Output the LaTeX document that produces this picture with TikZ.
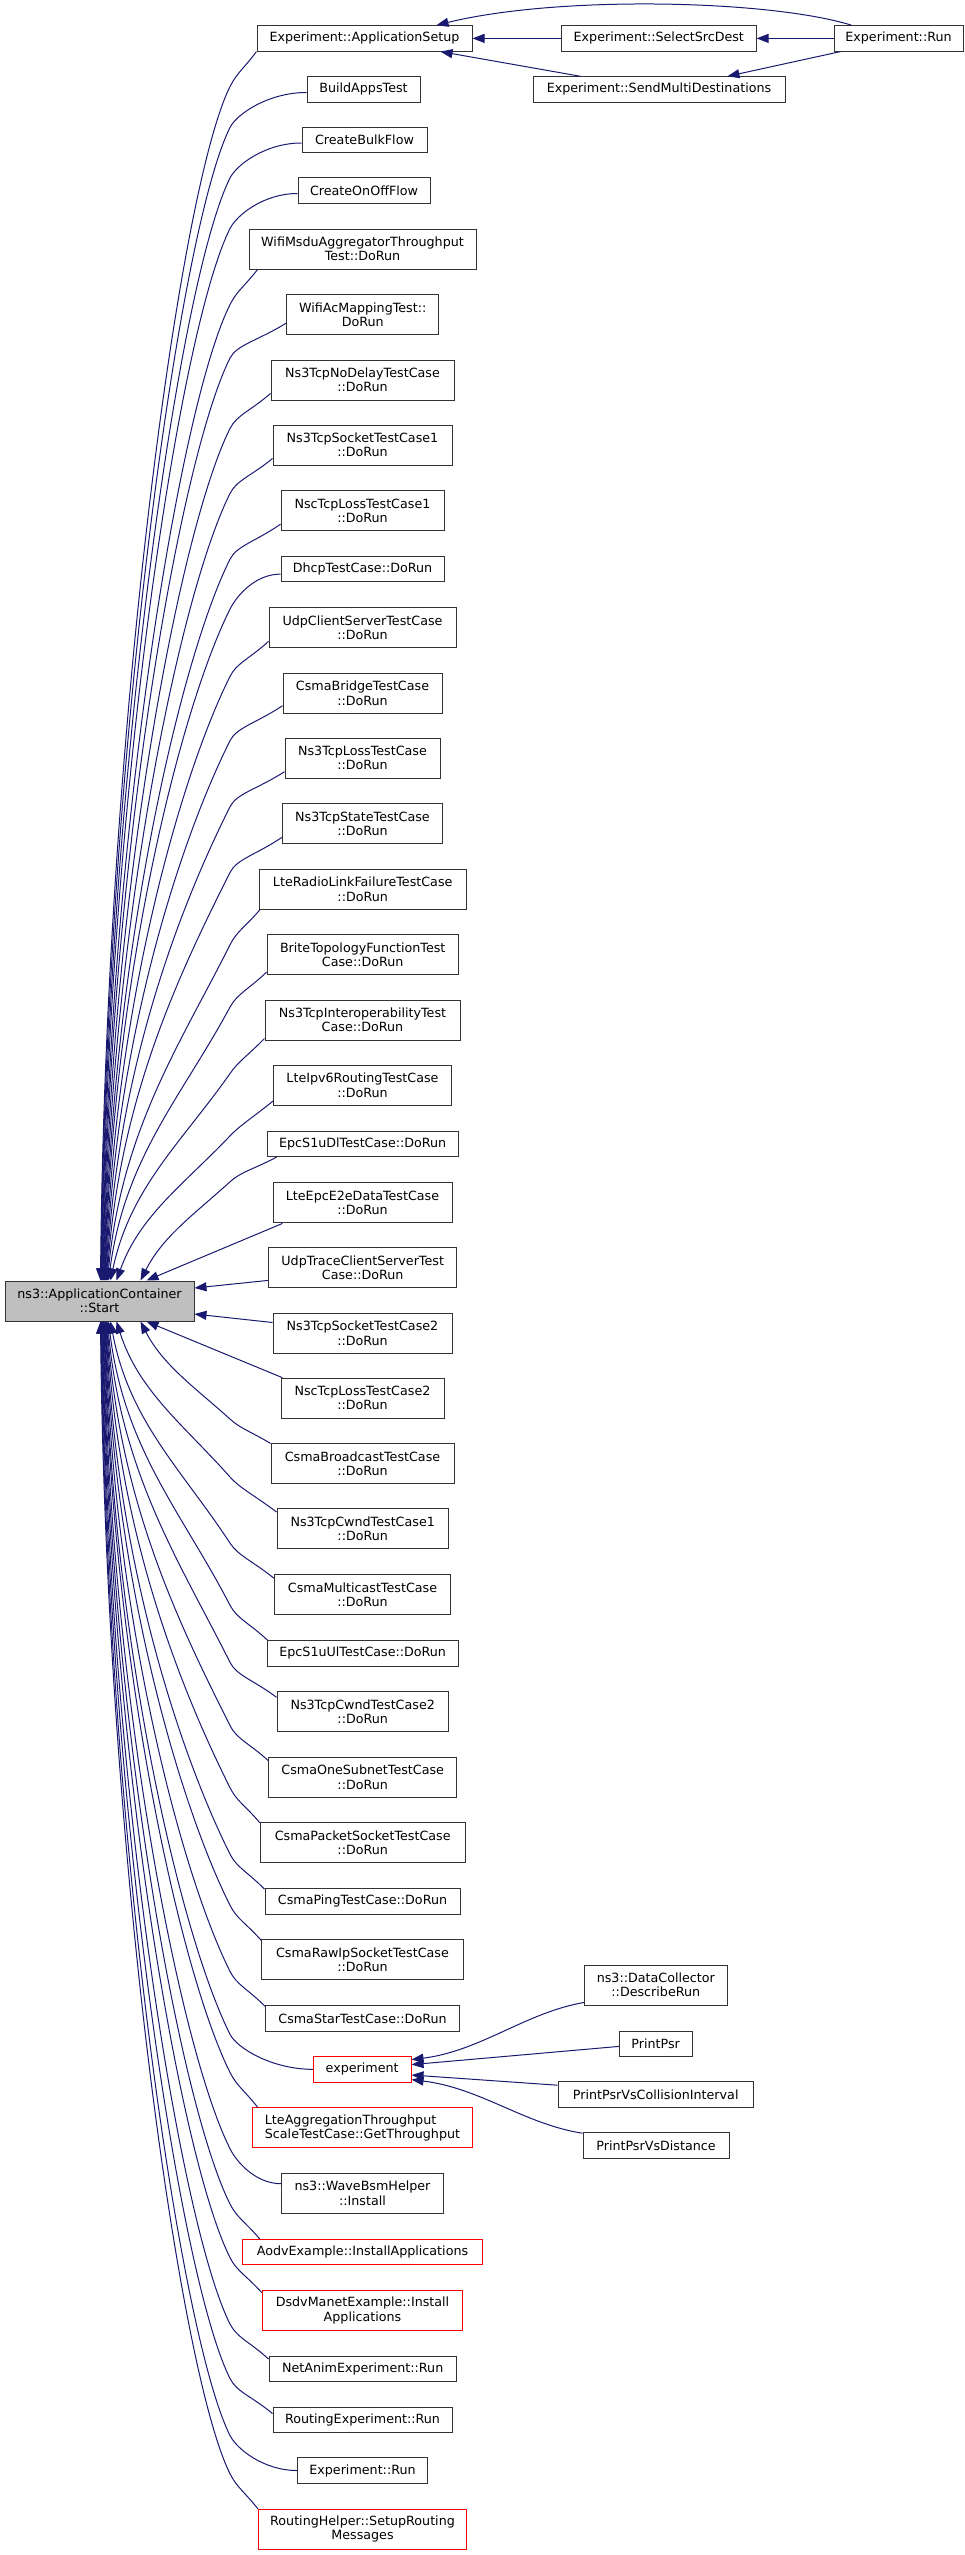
\documentclass[tikz,border=0pt]{standalone}
\usepackage{fontspec}
\setmainfont{DejaVu Sans}
\usetikzlibrary{arrows.meta,calc}
\definecolor{edgec}{HTML}{191970}
\definecolor{startfill}{HTML}{BFBFBF}
\tikzset{
  nbox/.style={draw=black!80, line width=1pt, fill=white, inner xsep=2pt, inner ysep=0pt, align=center, font=\fontsize{12.7}{14.3}\selectfont, text=black},
  bxone/.style={nbox, minimum height=25.4pt},
  bxtwo/.style={nbox, minimum height=40pt},
  redbox/.style={draw=red},
  calledge/.style={draw=edgec, line width=1pt, -{Triangle[length=12pt,width=9pt]}},
}
% #1 start, #2 end, #3 sign (1: caller above Start, -1: below), #4 mode (0: leaves horizontally, 1: leaves obliquely)
\newcommand\cedge[4]{%
 \draw[calledge] let \p1=#1, \p2=#2,
   \n9={(#3)*(\y1-\y2)},
   \n8={min(35,0.2*\n9)},
   \p3=(230pt,{\y1-(#3)*\n8*1pt}),
   \n1={\x3-\x2},
   \n2={(#3)*(\y3-\y2)},
   \n4={max(0.5,1.2*\n1/\n2)},
   \n5={min(0.4*\n1/\n4,0.33*\n2)},
   \n3={0.5*\n1*100/(\n2+100)},
   \p4=({\x3-0.4*\n1*1pt},{\y3-(#3)*\n5*1pt}),
   \p5=({\x2+\n3*1pt},{\y2+(#3)*0.45*\n2*1pt}),
   \p6=($(\p3)!-15pt!(\p4)$),
   \p7=({\x1-0.5*(\x1-230pt)},{\y1-(#4)*(#3)*0.5*\n8*1pt})
 in (\p1) .. controls (\p7) and (\p6) .. (\p3) .. controls (\p4) and (\p5) .. (\p2);}
\begin{document}
\begin{tikzpicture}[x=1pt,y=-1pt]
\useasboundingbox (0,0) rectangle (965,2555);
% start node
\node[bxtwo, fill=startfill, minimum width=189pt] (st) at (99.5,1301) {ns3::ApplicationContainer\\::Start};
% column 2
\node[bxone, minimum width=215pt] (n1) at (364.5,38.4) {Experiment::ApplicationSetup};
\node[bxone, minimum width=113pt] (n2) at (363.5,89.5) {BuildAppsTest};
\node[bxone, minimum width=125pt] (n3) at (364.5,140) {CreateBulkFlow};
\node[bxone, minimum width=132pt] (n4) at (364,190.5) {CreateOnOffFlow};
\node[bxtwo, minimum width=227pt] (n5) at (362.5,249.1) {WifiMsduAggregatorThroughput\\Test::DoRun};
\node[bxtwo, minimum width=152pt] (n6) at (362.7,314.6) {WifiAcMappingTest::\\DoRun};
\node[bxtwo, minimum width=183pt] (n7) at (362.5,380) {Ns3TcpNoDelayTestCase\\::DoRun};
\node[bxtwo, minimum width=179pt] (n8) at (362.5,445) {Ns3TcpSocketTestCase1\\::DoRun};
\node[bxtwo, minimum width=163pt] (n9) at (362.5,510.7) {NscTcpLossTestCase1\\::DoRun};
\node[bxone, minimum width=163pt] (n10) at (362.5,569.1) {DhcpTestCase::DoRun};
\node[bxtwo, minimum width=187pt] (n11) at (362.5,627.9) {UdpClientServerTestCase\\::DoRun};
\node[bxtwo, minimum width=159pt] (n12) at (362.5,693.2) {CsmaBridgeTestCase\\::DoRun};
\node[bxtwo, minimum width=155pt] (n13) at (362.5,758.2) {Ns3TcpLossTestCase\\::DoRun};
\node[bxtwo, minimum width=160.4pt] (n14) at (362.5,823.9) {Ns3TcpStateTestCase\\::DoRun};
\node[bxtwo, minimum width=206.7pt] (n15) at (362.7,889.3) {LteRadioLinkFailureTestCase\\::DoRun};
\node[bxtwo, minimum width=191.3pt] (n16) at (362.7,954.6) {BriteTopologyFunctionTest\\Case::DoRun};
\node[bxtwo, minimum width=195pt] (n17) at (362.5,1020) {Ns3TcpInteroperabilityTest\\Case::DoRun};
\node[bxtwo, minimum width=177.6pt] (n18) at (362.5,1085.4) {LteIpv6RoutingTestCase\\::DoRun};
\node[bxone, minimum width=191.3pt] (n19) at (362.7,1143.9) {EpcS1uDlTestCase::DoRun};
\node[bxtwo, minimum width=179pt] (n20) at (362.5,1202.9) {LteEpcE2eDataTestCase\\::DoRun};
\node[bxtwo, minimum width=188pt] (n21) at (362.7,1267.9) {UdpTraceClientServerTest\\Case::DoRun};
\node[bxtwo, minimum width=179pt] (n22) at (362.5,1333.2) {Ns3TcpSocketTestCase2\\::DoRun};
\node[bxtwo, minimum width=163pt] (n23) at (362.5,1398.2) {NscTcpLossTestCase2\\::DoRun};
\node[bxtwo, minimum width=183pt] (n24) at (362.5,1463.9) {CsmaBroadcastTestCase\\::DoRun};
\node[bxtwo, minimum width=171.3pt] (n25) at (362.7,1528.9) {Ns3TcpCwndTestCase1\\::DoRun};
\node[bxtwo, minimum width=176.4pt] (n26) at (362.5,1594.6) {CsmaMulticastTestCase\\::DoRun};
\node[bxone, minimum width=191.3pt] (n27) at (362.7,1653.4) {EpcS1uUlTestCase::DoRun};
\node[bxtwo, minimum width=171.3pt] (n28) at (362.7,1711.8) {Ns3TcpCwndTestCase2\\::DoRun};
\node[bxtwo, minimum width=188pt] (n29) at (362.7,1777.1) {CsmaOneSubnetTestCase\\::DoRun};
\node[bxtwo, minimum width=204.7pt] (n30) at (362.7,1842.7) {CsmaPacketSocketTestCase\\::DoRun};
\node[bxone, minimum width=195pt] (n31) at (362.5,1901.3) {CsmaPingTestCase::DoRun};
\node[bxtwo, minimum width=201.6pt] (n32) at (362.5,1959.8) {CsmaRawIpSocketTestCase\\::DoRun};
\node[bxone, minimum width=193.6pt] (n33) at (362.5,2018.6) {CsmaStarTestCase::DoRun};
\node[bxone, redbox, minimum width=97.7pt] (n34) at (362.2,2069.3) {experiment};
\node[bxtwo, redbox, align=left, minimum width=220.4pt] (n35) at (362.5,2127.9) {LteAggregationThroughput\\ScaleTestCase::GetThroughput};
\node[bxtwo, minimum width=161.6pt] (n36) at (362.5,2193.2) {ns3::WaveBsmHelper\\::Install};
\node[bxone, redbox, minimum width=240.4pt] (n37) at (362.5,2252.2) {AodvExample::InstallApplications};
\node[bxtwo, redbox, minimum width=200.4pt] (n38) at (362.5,2310.6) {DsdvManetExample::Install\\Applications};
\node[bxone, minimum width=187.3pt] (n39) at (362.7,2369.2) {NetAnimExperiment::Run};
\node[bxone, minimum width=179pt] (n40) at (362.5,2419.7) {RoutingExperiment::Run};
\node[bxone, minimum width=129.6pt] (n41) at (362.5,2470.5) {Experiment::Run};
\node[bxtwo, redbox, minimum width=208.4pt] (n42) at (362.5,2529.2) {RoutingHelper::SetupRouting\\Messages};
% column 3 / 4
\node[bxone, minimum width=194.5pt] (sel) at (658.8,38.4) {Experiment::SelectSrcDest};
\node[bxone, minimum width=252pt] (smd) at (659,89.5) {Experiment::SendMultiDestinations};
\node[bxone, minimum width=129pt] (run) at (898.5,38.4) {Experiment::Run};
\node[bxtwo, minimum width=143pt] (dc) at (655.8,1985) {ns3::DataCollector\\::DescribeRun};
\node[bxone, minimum width=72.7pt] (pp) at (655.7,2043.8) {PrintPsr};
\node[bxone, minimum width=195pt] (ppc) at (655.7,2094.5) {PrintPsrVsCollisionInterval};
\node[bxone, minimum width=146pt] (ppd) at (656,2145.4) {PrintPsrVsDistance};
% top-right edges
\draw[calledge] (sel.west) -- (n1.east);
\draw[calledge] (run.west) -- (sel.east);
\draw[calledge] ($(smd.north west)+(48,0)$) -- ($(n1.south east)+(-32,0)$);
\draw[calledge] ($(run.south west)+(7,0)$) -- ($(smd.north east)+(-58,0)$);
\draw[calledge] ($(run.north west)+(18,0)$) .. controls (770,0) and (560,-5) .. ($(n1.north east)+(-36,0)$);
% experiment callers
\draw[calledge] ($(dc.south west)+(0,-3)$) .. controls +(-58,10) and +(69,-8.6) .. ($(n34.east)+(0,-9.7)$);
\draw[calledge] ($(pp.west)+(0,2.6)$) -- ($(n34.east)+(0,-4.7)$);
\draw[calledge] ($(ppc.north west)+(0,3.9)$) -- ($(n34.east)+(0,5.7)$);
\draw[calledge] ($(ppd.north west)+(0,1)$) .. controls +(-58,-9) and +(69,8.4) .. ($(n34.east)+(0,10.3)$);
% callers above Start
\cedge{($(n1.south west)+(0,0)$)}{($(st.north west)+(96,0)$)}{1}{1}
\cedge{($(n2.west)+(0,3)$)}{($(st.north west)+(96.5,0)$)}{1}{0}
\cedge{($(n3.west)+(0,3)$)}{($(st.north west)+(97,0)$)}{1}{0}
\cedge{($(n4.west)+(0,3)$)}{($(st.north west)+(97.5,0)$)}{1}{0}
\cedge{($(n5.south west)+(9,0)$)}{($(st.north west)+(98,0)$)}{1}{1}
\cedge{($(n6.south west)+(0,-12)$)}{($(st.north west)+(98.5,0)$)}{1}{1}
\cedge{($(n7.south west)+(0,-7)$)}{($(st.north west)+(99,0)$)}{1}{1}
\cedge{($(n8.south west)+(0,-7)$)}{($(st.north west)+(99.5,0)$)}{1}{1}
\cedge{($(n9.south west)+(0,-7)$)}{($(st.north west)+(100,0)$)}{1}{1}
\cedge{($(n10.west)+(0,5)$)}{($(st.north west)+(100.5,0)$)}{1}{0}
\cedge{($(n11.south west)+(0,-7)$)}{($(st.north west)+(101,0)$)}{1}{1}
\cedge{($(n12.south west)+(0,-8)$)}{($(st.north west)+(101.5,0)$)}{1}{1}
\cedge{($(n13.south west)+(0,-7)$)}{($(st.north west)+(102,0)$)}{1}{1}
\cedge{($(n14.south west)+(0,-7)$)}{($(st.north west)+(102.5,0)$)}{1}{1}
\cedge{($(n15.south west)+(1,0)$)}{($(st.north west)+(103,0)$)}{1}{1}
\cedge{($(n16.south west)+(0,-3)$)}{($(st.north west)+(104,0)$)}{1}{1}
\cedge{($(n17.south west)+(0,-2)$)}{($(st.north west)+(106,0)$)}{1}{1}
\cedge{($(n18.south west)+(0,-5)$)}{($(st.north west)+(112,0)$)}{1}{1}
\cedge{($(n19.south west)+(10,0)$)}{($(st.north west)+(136,0)$)}{1}{1}
\draw[calledge] ($(n20.south west)+(10,0)$) -- ($(st.north west)+(142,0)$);
% callers beside Start
\draw[calledge] ($(n21.west)+(0,12.5)$) -- ($(st.east)+(0,-13)$);
\draw[calledge] ($(n22.west)+(0,-10.7)$) -- ($(st.east)+(0,13)$);
% callers below Start
\draw[calledge] ($(n23.north west)+(2,0)$) -- ($(st.south west)+(142,0)$);
\cedge{($(n24.north west)+(0,0)$)}{($(st.south west)+(136,0)$)}{-1}{1}
\cedge{($(n25.north west)+(0,3.6)$)}{($(st.south west)+(112,0)$)}{-1}{1}
\cedge{($(n26.north west)+(0,4)$)}{($(st.south west)+(106,0)$)}{-1}{1}
\cedge{($(n27.north west)+(1,0)$)}{($(st.south west)+(104,0)$)}{-1}{1}
\cedge{($(n28.north west)+(0,6)$)}{($(st.south west)+(103,0)$)}{-1}{1}
\cedge{($(n29.north west)+(0,4)$)}{($(st.south west)+(102.5,0)$)}{-1}{1}
\cedge{($(n30.north west)+(0,0.5)$)}{($(st.south west)+(102,0)$)}{-1}{1}
\cedge{($(n31.north west)+(0,1)$)}{($(st.south west)+(101.5,0)$)}{-1}{1}
\cedge{($(n32.north west)+(0,1)$)}{($(st.south west)+(101,0)$)}{-1}{1}
\cedge{($(n33.north west)+(0,1)$)}{($(st.south west)+(100.5,0)$)}{-1}{1}
\cedge{($(n34.west)+(0,0)$)}{($(st.south west)+(100,0)$)}{-1}{0}
\cedge{($(n35.north west)+(6,0)$)}{($(st.south west)+(99.5,0)$)}{-1}{1}
\cedge{($(n36.north west)+(0,11)$)}{($(st.south west)+(99,0)$)}{-1}{0}
\cedge{($(n37.north west)+(18,0)$)}{($(st.south west)+(98.5,0)$)}{-1}{1}
\cedge{($(n38.north west)+(0,2.5)$)}{($(st.south west)+(98,0)$)}{-1}{1}
\cedge{($(n39.north west)+(0,3)$)}{($(st.south west)+(97.5,0)$)}{-1}{1}
\cedge{($(n40.north west)+(0,7)$)}{($(st.south west)+(97,0)$)}{-1}{1}
\cedge{($(n41.west)+(0,0)$)}{($(st.south west)+(96.5,0)$)}{-1}{0}
\cedge{($(n42.north west)+(0,0)$)}{($(st.south west)+(96,0)$)}{-1}{1}
\end{tikzpicture}
\end{document}
